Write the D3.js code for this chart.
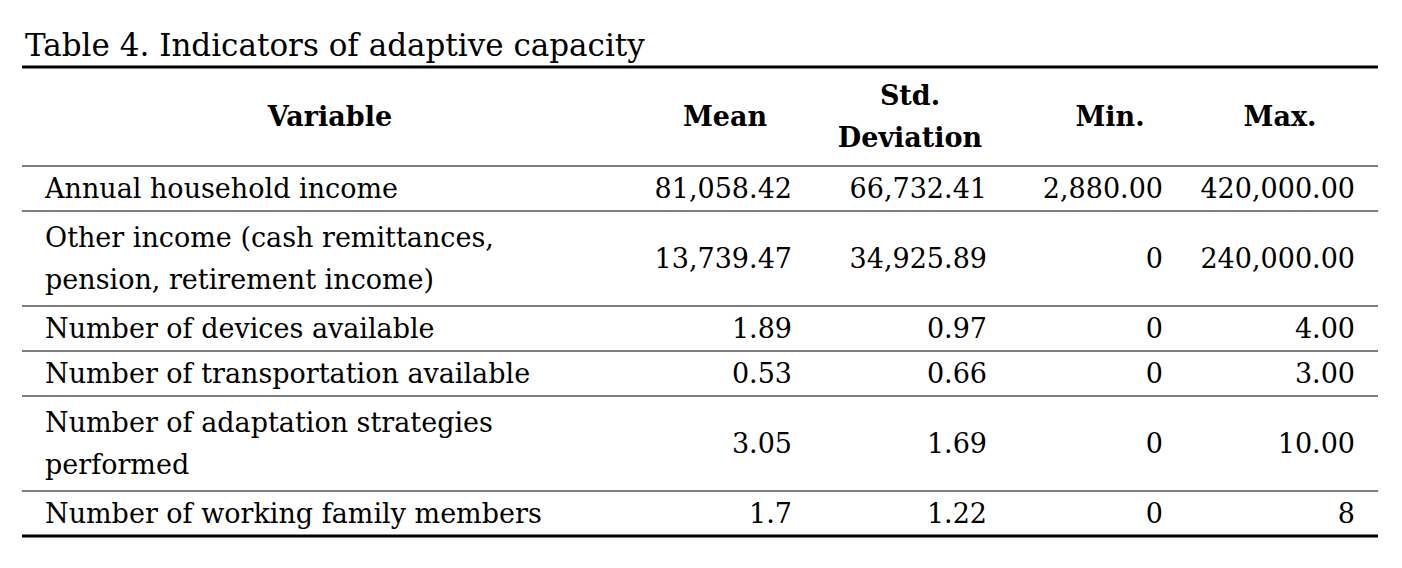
<!DOCTYPE html>
<html><head><meta charset="utf-8">
<script src="https://cdn.jsdelivr.net/npm/d3@7"></script>
<style>body{margin:0;background:#fff}</style>
</head><body><div id="chart"></div>
<script>
var title = "Table 4. Indicators of adaptive capacity";
var headers = [["Variable"], ["Mean"], ["Std.", "Deviation"], ["Min."], ["Max."]];
var variables = [
  ["Annual household income"],
  ["Other income (cash remittances,", "pension, retirement income)"],
  ["Number of devices available"],
  ["Number of transportation available"],
  ["Number of adaptation strategies", "performed"],
  ["Number of working family members"]
];
var means = ["81,058.42", "13,739.47", "1.89", "0.53", "3.05", "1.7"];
var stds = ["66,732.41", "34,925.89", "0.97", "0.66", "1.69", "1.22"];
var mins = ["2,880.00", "0", "0", "0", "0", "0"];
var maxs = ["420,000.00", "240,000.00", "4.00", "3.00", "10.00", "8"];

var W = 1402, H = 568, font = "'DejaVu Serif', serif", fs = 27;
var svg = d3.select("#chart").append("svg").attr("width", W).attr("height", H);

svg.append("text").attr("x", 25).attr("y", 56).attr("font-family", font)
  .attr("font-size", 31).text(title);

// vertical layout: row boundaries computed from line counts
var tableTop = 67, headH = 99;
var bounds = [tableTop + headH];
variables.forEach(function(v) {
  bounds.push(bounds[bounds.length - 1] + (v.length > 1 ? 95 : 45));
});

var colRight = [null, 792, 987, 1163, 1355];
var colCenter = [330, 725, 910, 1110, 1280];

function line(y, w) {
  svg.append("line").attr("x1", 22).attr("x2", 1378).attr("y1", y).attr("y2", y)
    .attr("stroke", "#000").attr("stroke-width", w);
}
line(tableTop, 3);
bounds.forEach(function(b, i) { line(b, i == bounds.length - 1 ? 3 : 1); });

// header
headers.forEach(function(h, i) {
  var cy = tableTop + headH / 2;
  h.forEach(function(t, j) {
    svg.append("text").attr("x", colCenter[i])
      .attr("y", cy + 9 + (j - (h.length - 1) / 2) * 42)
      .attr("text-anchor", "middle").attr("font-family", font)
      .attr("font-weight", "bold").attr("font-size", fs).text(t);
  });
});

var cols = [means, stds, mins, maxs];
variables.forEach(function(v, r) {
  var cy = (bounds[r] + bounds[r + 1]) / 2;
  v.forEach(function(t, j) {
    svg.append("text").attr("x", 45)
      .attr("y", cy + 9 + (j - (v.length - 1) / 2) * 42)
      .attr("font-family", font).attr("font-size", fs).text(t);
  });
  cols.forEach(function(c, k) {
    svg.append("text").attr("x", colRight[k + 1]).attr("y", cy + 9)
      .attr("text-anchor", "end").attr("font-family", font)
      .attr("font-size", fs).text(c[r]);
  });
});
</script></body></html>
